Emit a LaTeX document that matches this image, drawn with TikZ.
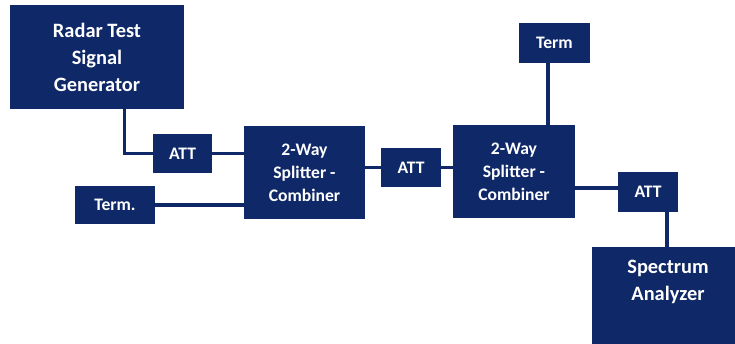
\documentclass[tikz,border=0pt]{standalone}
\usepackage{fontspec}
\setmainfont{Carlito}
\usetikzlibrary{calc}
\definecolor{navy}{RGB}{15,40,104}
\tikzset{
  box/.style={fill=navy, draw=none, text=white, font=\bfseries\fontsize{13.2}{17.2}\selectfont, align=center, inner sep=0pt},
  bigtxt/.style={text=white, font=\bfseries\fontsize{15.3}{20.2}\selectfont, align=center, inner sep=0pt},
  wire/.style={draw=navy, line width=2.4pt}
}
\begin{document}
\begin{tikzpicture}[x=0.75pt,y=-0.75pt]
\useasboundingbox (0,0) rectangle (735,343);
\clip (0,0) rectangle (735,343);
\fill[white] (0,0) rectangle (735,343);
\node[box, minimum width=174*0.75pt, minimum height=104*0.75pt, font=\bfseries\fontsize{15.3}{20.2}\selectfont] (radar) at (97,57) {Radar Test\\Signal\\Generator};
\node[box, minimum width=59*0.75pt, minimum height=39*0.75pt] (att1) at (182.5,153.5) {ATT};
\node[box, minimum width=80*0.75pt, minimum height=38*0.75pt] (term1) at (115,205) {Term.};
\node[box, minimum width=121*0.75pt, minimum height=93*0.75pt] (sp1) at (304.5,172.5) {2-Way\\Splitter -\\Combiner};
\node[box, minimum width=60*0.75pt, minimum height=39*0.75pt] (att2) at (411,167.5) {ATT};
\node[box, minimum width=122*0.75pt, minimum height=93*0.75pt] (sp2) at (514,171.5) {2-Way\\Splitter -\\Combiner};
\node[box, minimum width=71*0.75pt, minimum height=40*0.75pt] (term2) at (554.5,43) {Term};
\node[box, minimum width=60*0.75pt, minimum height=40*0.75pt] (att3) at (648,192) {ATT};
\node[box, minimum width=158*0.75pt, minimum height=113*0.75pt] (spec) at (671,303.5) {};
\node[bigtxt] (spectxt) at (668,282) {Spectrum\\Analyzer};
\draw[wire] ($(radar.south west)+(115,0)$) |- (att1.west);
\draw[wire] (att1.east) -- (att1.east -| sp1.west);
\draw[wire] (term1.east) -- (term1.east -| sp1.west);
\draw[wire] (att2.west -| sp1.east) -- (att2.west);
\draw[wire] (att2.east) -- (att2.east -| sp2.west);
\draw[wire] ([xshift=-4.9pt]term2.south) -- ([xshift=-4.9pt]term2.south |- sp2.north);
\draw[wire] ([yshift=3pt]att3.west -| sp2.east) -- ([yshift=3pt]att3.west);
\draw[wire] ([xshift=14.25pt]att3.south) -- ([xshift=14.25pt]att3.south |- spec.north);
\end{tikzpicture}
\end{document}
